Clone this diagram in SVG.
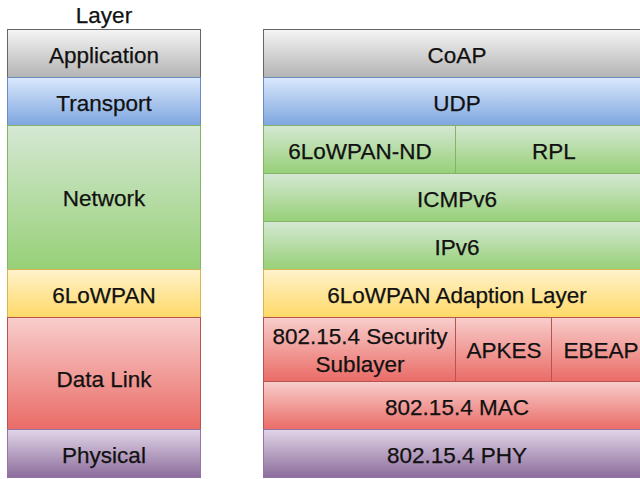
<svg xmlns="http://www.w3.org/2000/svg" width="640" height="479" viewBox="0 0 640 479">
<defs>
<linearGradient id="gGray" x1="0" y1="0" x2="0" y2="1"><stop offset="0" stop-color="#f5f5f5"/><stop offset="1" stop-color="#b3b3b3"/></linearGradient>
<linearGradient id="gBlue" x1="0" y1="0" x2="0" y2="1"><stop offset="0" stop-color="#dae8fc"/><stop offset="1" stop-color="#7ea6e0"/></linearGradient>
<linearGradient id="gGreen" x1="0" y1="0" x2="0" y2="1"><stop offset="0" stop-color="#d5e8d4"/><stop offset="1" stop-color="#97d077"/></linearGradient>
<linearGradient id="gYellow" x1="0" y1="0" x2="0" y2="1"><stop offset="0" stop-color="#fff2cc"/><stop offset="1" stop-color="#ffd966"/></linearGradient>
<linearGradient id="gRed" x1="0" y1="0" x2="0" y2="1"><stop offset="0" stop-color="#f8cecc"/><stop offset="1" stop-color="#ea6b66"/></linearGradient>
<linearGradient id="gPurple" x1="0" y1="0" x2="0" y2="1"><stop offset="0" stop-color="#e1d5e7"/><stop offset="1" stop-color="#8c6c9c"/></linearGradient>
</defs>
<style>
text{font-family:"Liberation Sans",Arial,sans-serif;font-size:22.5px;fill:#111;stroke:#111;stroke-width:0.25px;text-anchor:middle}
.gray{fill:url(#gGray);stroke:#666666}
.blue{fill:url(#gBlue);stroke:#6c8ebf}
.green{fill:url(#gGreen);stroke:#82b366}
.yellow{fill:url(#gYellow);stroke:#d6b656}
.red{fill:url(#gRed);stroke:#b85450}
.purple{fill:url(#gPurple);stroke:#9673a6}
rect{stroke-width:1}
</style>
<rect width="640" height="479" fill="#ffffff" stroke="none"/>
<g id="layer-title"><text x="104" y="23">Layer</text></g>
<g id="application"><rect class="gray" x="7.5" y="29.5" width="193" height="48"/><text x="104" y="62.5">Application</text></g>
<g id="transport"><rect class="blue" x="7.5" y="77.5" width="193" height="48"/><text x="104" y="110.5">Transport</text></g>
<g id="network"><rect class="green" x="7.5" y="125.5" width="193" height="144"/><text x="104" y="205.5">Network</text></g>
<g id="sixlowpan"><rect class="yellow" x="7.5" y="269.5" width="193" height="48"/><text x="104" y="302.5">6LoWPAN</text></g>
<g id="datalink"><rect class="red" x="7.5" y="317.5" width="193" height="112"/><text x="104" y="386.5">Data Link</text></g>
<g id="physical"><rect class="purple" x="7.5" y="429.5" width="193" height="48"/><text x="104" y="462.5">Physical</text></g>

<g id="coap"><rect class="gray" x="263.5" y="29.5" width="387" height="48"/><text x="457" y="62.5">CoAP</text></g>
<g id="udp"><rect class="blue" x="263.5" y="77.5" width="387" height="48"/><text x="457" y="110.5">UDP</text></g>
<g id="nd"><rect class="green" x="263.5" y="125.5" width="192" height="48"/><text x="360" y="158.5">6LoWPAN-ND</text></g>
<g id="rpl"><rect class="green" x="455.5" y="125.5" width="195" height="48"/><text x="554" y="158.5">RPL</text></g>
<g id="icmpv6"><rect class="green" x="263.5" y="173.5" width="387" height="48"/><text x="457" y="206.5">ICMPv6</text></g>
<g id="ipv6"><rect class="green" x="263.5" y="221.5" width="387" height="48"/><text x="457" y="254.5">IPv6</text></g>
<g id="adaption"><rect class="yellow" x="263.5" y="269.5" width="387" height="48"/><text x="457" y="302.5">6LoWPAN Adaption Layer</text></g>
<g id="security"><rect class="red" x="263.5" y="317.5" width="192" height="64"/><text x="360" y="344">802.15.4 Security</text><text x="360" y="371.5">Sublayer</text></g>
<g id="apkes"><rect class="red" x="455.5" y="317.5" width="96" height="64"/><text x="504" y="358">APKES</text></g>
<g id="ebeap"><rect class="red" x="551.5" y="317.5" width="99" height="64"/><text x="601" y="358">EBEAP</text></g>
<g id="mac"><rect class="red" x="263.5" y="381.5" width="387" height="48"/><text x="457" y="414.5">802.15.4 MAC</text></g>
<g id="phy"><rect class="purple" x="263.5" y="429.5" width="387" height="48"/><text x="457" y="462.5">802.15.4 PHY</text></g>
<g id="connectors"></g>
</svg>
